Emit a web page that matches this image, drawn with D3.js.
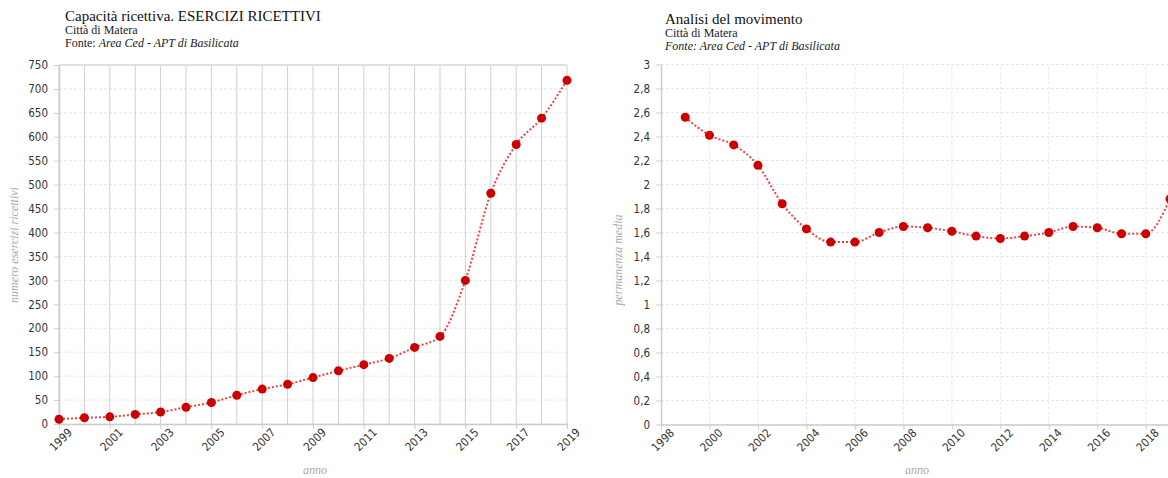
<!DOCTYPE html>
<html>
<head>
<meta charset="utf-8">
<script src="https://cdn.jsdelivr.net/npm/d3@7"></script>
<style>
  body { margin: 0; background: #fff; }
  svg { display: block; }
  .tick text { font-family: "DejaVu Sans Condensed", "DejaVu Sans", sans-serif; font-stretch: condensed; font-size: 11.5px; fill: #333; }
</style>
</head>
<body>
<div id="chart"></div>
<script>
// capacità ricettiva
const anniEsercizi = [1999, 2000, 2001, 2002, 2003, 2004, 2005, 2006, 2007, 2008, 2009, 2010, 2011, 2012, 2013, 2014, 2015, 2016, 2017, 2018, 2019];
const esercizi = [10, 13, 15, 20, 25, 35, 45, 60, 73, 83, 97, 111, 124, 137, 160, 183, 300, 482, 584, 639, 718];
const yTicksEsercizi = [0, 50, 100, 150, 200, 250, 300, 350, 400, 450, 500, 550, 600, 650, 700, 750];
const xTicksEsercizi = [1999, 2001, 2003, 2005, 2007, 2009, 2011, 2013, 2015, 2017, 2019];

// permanenza media
const anniPermanenza = [1999, 2000, 2001, 2002, 2003, 2004, 2005, 2006, 2007, 2008, 2009, 2010, 2011, 2012, 2013, 2014, 2015, 2016, 2017, 2018, 2019];
const permanenza = [2.56, 2.41, 2.33, 2.16, 1.84, 1.63, 1.52, 1.52, 1.60, 1.65, 1.64, 1.61, 1.57, 1.55, 1.57, 1.60, 1.65, 1.64, 1.59, 1.59, 1.88];
const yTicksPermanenza = [0, 0.2, 0.4, 0.6, 0.8, 1, 1.2, 1.4, 1.6, 1.8, 2, 2.2, 2.4, 2.6, 2.8, 3];
const xTicksPermanenza = [1998, 2000, 2002, 2004, 2006, 2008, 2010, 2012, 2014, 2016, 2018];

const svg = d3.select("#chart")
    .append("svg")
    .attr("width", 1168)
    .attr("height", 478);

const fmtIt = d => String(d).replace(".", ",");

function drawTitles(x, y, title, fonteAllItalic) {
    const g = svg.append("g").attr("font-family", "'Liberation Serif', 'Times New Roman', serif");
    g.append("text").attr("x", x).attr("y", y).attr("font-size", 15).attr("fill", "#111").text(title);
    g.append("text").attr("x", x).attr("y", y + 13).attr("font-size", 12).attr("fill", "#222").text("Città di Matera");
    const f = g.append("text").attr("x", x).attr("y", y + 26).attr("font-size", 12).attr("fill", "#222");
    f.append("tspan").attr("font-style", fonteAllItalic ? "italic" : "normal").text("Fonte: ");
    f.append("tspan").attr("font-style", "italic").text("Area Ced - APT di Basilicata");
}

function drawChart(opt) {
    const { years, values, xDomain, xRange, yDomain, yRange, xTicks, yTicks, fmt } = opt;
    const x = d3.scaleLinear(xDomain, xRange);
    const y = d3.scaleLinear(yDomain, yRange);
    const g = svg.append("g");

    // horizontal grid
    g.append("g").selectAll("line")
        .data(yTicks)
        .enter()
        .append("line")
        .attr("x1", xRange[0]).attr("x2", opt.gridRight)
        .attr("y1", d => y(d)).attr("y2", d => y(d))
        .attr("stroke", "#e6e6e6")
        .attr("stroke-dasharray", "3,2");

    // vertical grid
    g.append("g").selectAll("line")
        .data(opt.vGrid)
        .enter()
        .append("line")
        .attr("x1", d => x(d)).attr("x2", d => x(d))
        .attr("y1", yRange[0]).attr("y2", yRange[1])
        .attr("stroke", opt.vGridColor)
        .attr("stroke-dasharray", opt.vGridDash);

    if (opt.topBorder) {
        g.append("line")
            .attr("x1", xRange[0]).attr("x2", xRange[1])
            .attr("y1", yRange[1]).attr("y2", yRange[1])
            .attr("stroke", "#e0e0e0").attr("stroke-width", 2);
    }

    // axes
    const xAxis = g.append("g")
        .attr("transform", `translate(0, ${yRange[0]})`)
        .call(d3.axisBottom(x).tickValues(xTicks).tickFormat(d => d).tickSize(5).tickSizeOuter(0));
    xAxis.select(".domain").attr("stroke", "#ccc").attr("stroke-width", 1.5)
        .attr("d", `M${xRange[0]},0.5H${opt.gridRight}`);
    xAxis.selectAll(".tick line").attr("stroke", "#ccc");
    xAxis.selectAll(".tick text")
        .attr("text-anchor", "end")
        .attr("dx", "3")
        .attr("dy", "10")
        .attr("transform", "rotate(-45)")
        .attr("y", 6);

    const yAxis = g.append("g")
        .attr("transform", `translate(${xRange[0]}, 0)`)
        .call(d3.axisLeft(y).tickValues(yTicks).tickFormat(fmt).tickSize(5).tickSizeOuter(0).tickPadding(6));
    yAxis.select(".domain").attr("stroke", "#ccc").attr("stroke-width", 1.5);
    yAxis.selectAll(".tick line").attr("stroke", "#ccc");

    // axis titles
    g.append("text")
        .attr("transform", `translate(${opt.yTitlePos[0]}, ${opt.yTitlePos[1]}) rotate(-90)`)
        .attr("text-anchor", "middle")
        .attr("font-family", "'Liberation Serif', serif")
        .attr("font-style", "italic")
        .attr("font-size", 12)
        .attr("fill", "#aaa")
        .text(opt.yTitle);
    g.append("text")
        .attr("x", opt.xTitlePos[0]).attr("y", opt.xTitlePos[1])
        .attr("text-anchor", "middle")
        .attr("font-family", "'Liberation Serif', serif")
        .attr("font-style", "italic")
        .attr("font-size", 12)
        .attr("fill", "#aaa")
        .text("anno");

    // line
    const line = d3.line()
        .x((d, i) => x(years[i]))
        .y(d => y(d))
        .curve(d3.curveMonotoneX);
    g.append("path")
        .datum(values)
        .attr("d", line)
        .attr("fill", "none")
        .attr("stroke", "#f04040")
        .attr("stroke-width", 2)
        .attr("stroke-dasharray", "2,2");

    // points
    g.selectAll("circle")
        .data(values)
        .enter()
        .append("circle")
        .attr("cx", (d, i) => x(years[i]))
        .attr("cy", d => y(d))
        .attr("r", 4.5)
        .attr("fill", "#cc0000");
}

drawTitles(65, 21, "Capacità ricettiva. ESERCIZI RICETTIVI", false);
drawTitles(665, 24, "Analisi del movimento", true);

drawChart({
    years: anniEsercizi,
    values: esercizi,
    xDomain: [1999, 2019],
    xRange: [59, 567],
    gridRight: 567,
    yDomain: [0, 750],
    yRange: [424, 65],
    xTicks: xTicksEsercizi,
    yTicks: yTicksEsercizi,
    vGrid: anniEsercizi,
    vGridColor: "#d0d0d0",
    vGridDash: null,
    topBorder: true,
    fmt: d => d,
    yTitle: "numero esercizi ricettivi",
    yTitlePos: [18, 245],
    xTitlePos: [315, 474]
});

drawChart({
    years: anniPermanenza,
    values: permanenza,
    xDomain: [1998, 2019],
    xRange: [661, 1170],
    gridRight: 1170,
    yDomain: [0, 3],
    yRange: [424.5, 64.5],
    xTicks: xTicksPermanenza,
    yTicks: yTicksPermanenza,
    vGrid: xTicksPermanenza.slice(1),
    vGridColor: "#e6e6e6",
    vGridDash: "3,2",
    topBorder: false,
    fmt: fmtIt,
    yTitle: "permanenza media",
    yTitlePos: [622, 260],
    xTitlePos: [917, 474]
});
</script>
</body>
</html>
